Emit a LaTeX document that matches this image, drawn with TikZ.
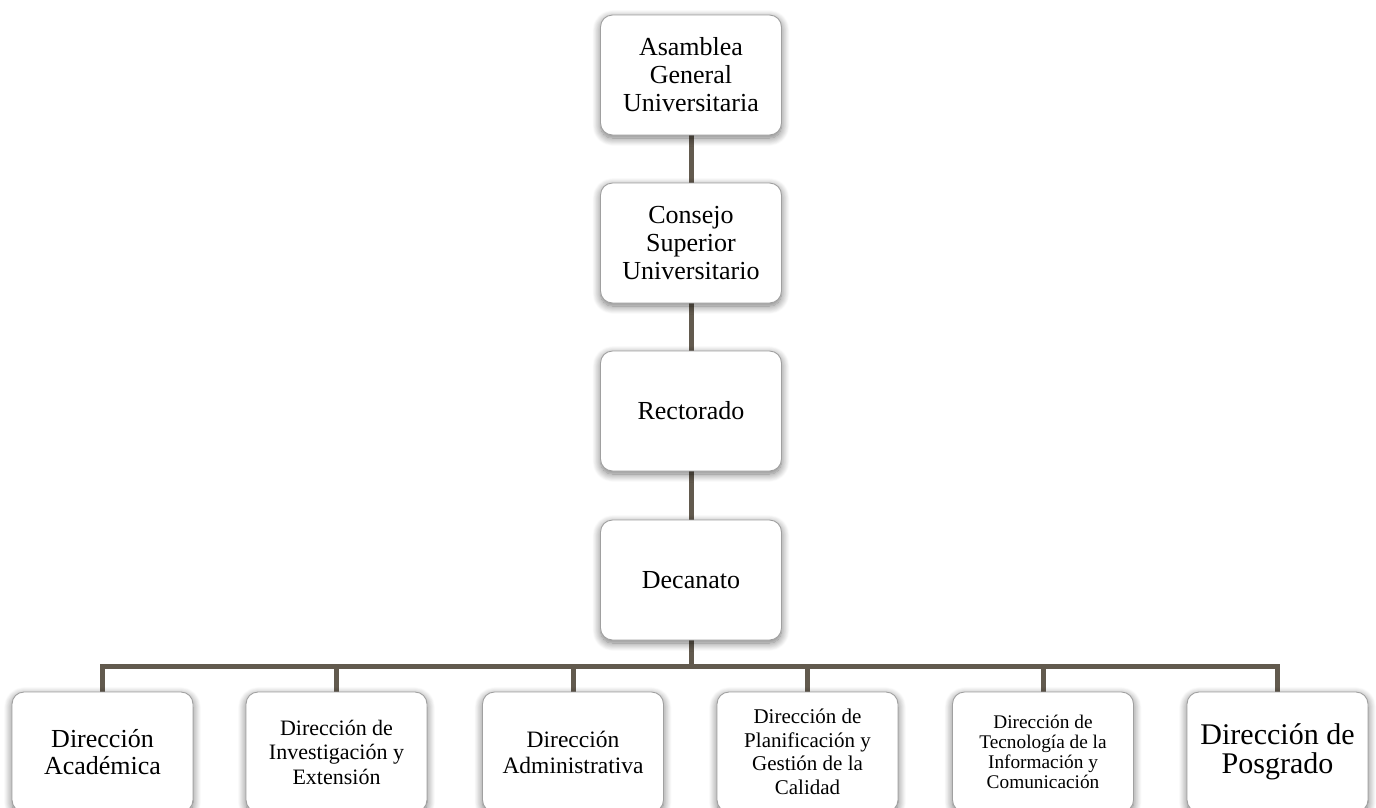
\documentclass[tikz,border=0pt]{standalone}
\usepackage{fontspec}
\setmainfont{Liberation Serif}
\usetikzlibrary{shadows.blur,backgrounds}
\definecolor{conncol}{RGB}{98,90,78}
\definecolor{boxborder}{RGB}{160,160,160}
\begin{document}
\begin{tikzpicture}[x=1pt,y=-1pt,
  box/.style={draw=boxborder, line width=0.9pt, fill=white, rounded corners=12pt,
    minimum width=181pt, minimum height=120pt, align=center, inner sep=0pt,
    blur shadow={shadow xshift=0pt, shadow yshift=-3pt, shadow blur radius=8pt, shadow opacity=55, shadow blur steps=12},
    font=\fontsize{26}{28}\selectfont},
  conn/.style={draw=conncol, line width=5pt, line join=miter, line cap=butt}]
\useasboundingbox (0,0) rectangle (1376,807);
\node[box] (agu) at (691,75) {Asamblea\\General\\Universitaria};
\node[box] (csu) at (691,243) {Consejo\\Superior\\Universitario};
\node[box] (rec) at (691,411) {Rectorado};
\node[box] (dec) at (691,580) {Decanato};
\node[box, font=\fontsize{26}{27}\selectfont] (b1) at (102.5,752) {Dirección\\Académica};
\node[box, font=\fontsize{22}{24.5}\selectfont] (b2) at (336.5,752) {Dirección de\\Investigación y\\Extensión};
\node[box, font=\fontsize{23.5}{26}\selectfont] (b3) at (573,752) {Dirección\\Administrativa};
\node[box, font=\fontsize{21}{23.5}\selectfont] (b4) at (807.5,752) {Dirección de\\Planificación y\\Gestión de la\\Calidad};
\node[box, font=\fontsize{19.3}{20}\selectfont] (b5) at (1043,752) {Dirección de\\Tecnología de la\\Información y\\Comunicación};
\node[box, font=\fontsize{30}{29}\selectfont] (b6) at (1277.5,752) {Dirección de\\Posgrado};
\coordinate (bus) at (691,666.5);
\begin{scope}[on background layer]
\draw[conn] (agu.south) -- (csu.north);
\draw[conn] (csu.south) -- (rec.north);
\draw[conn] (rec.south) -- (dec.north);
\draw[conn] (dec.south) -- (bus);
\draw[conn] (b1.north) |- (bus) -| (b6.north);
\draw[conn] (b2.north) -- (b2.north |- bus);
\draw[conn] (b3.north) -- (b3.north |- bus);
\draw[conn] (b4.north) -- (b4.north |- bus);
\draw[conn] (b5.north) -- (b5.north |- bus);
\end{scope}
\end{tikzpicture}
\end{document}
